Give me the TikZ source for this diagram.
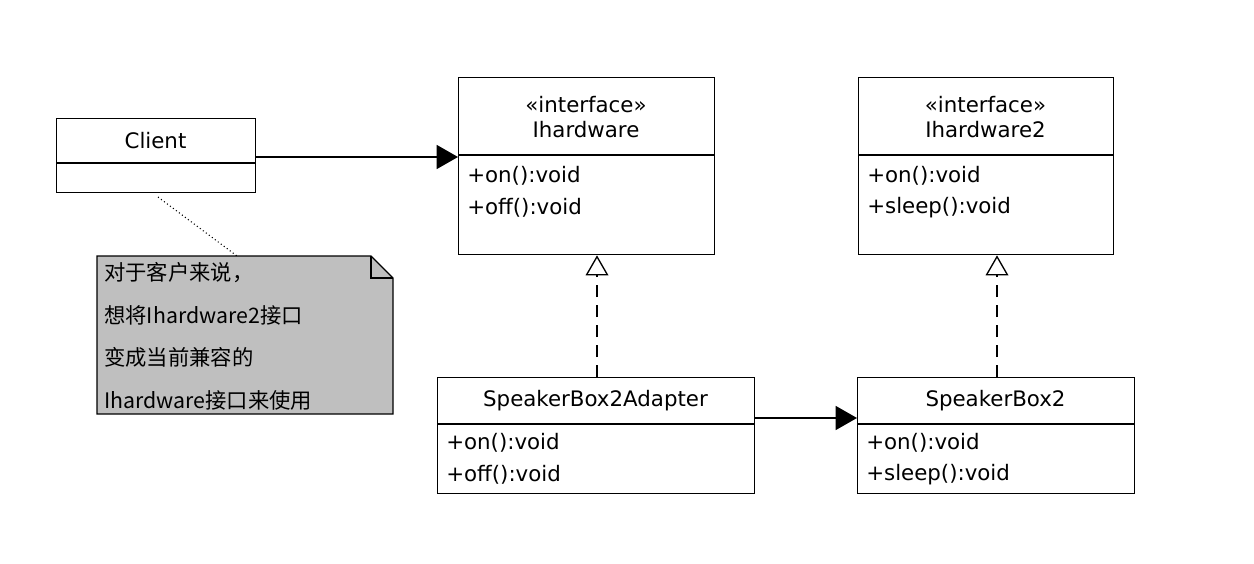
\documentclass[tikz,border=0pt]{standalone}
\usepackage{fontspec}
\setmainfont{DejaVu Sans}
\newfontfamily\cjk{Noto Sans CJK SC}
\usetikzlibrary{arrows.meta}
\begin{document}
\begin{tikzpicture}[x=0.75pt,y=-0.75pt,
  box/.style={draw,line width=1pt,rectangle,inner sep=0pt,anchor=north west},
  txt/.style={font=\fontsize{16}{19}\selectfont,inner sep=0pt},
  mem/.style={txt,anchor=west},
  assoc/.style={line width=1pt,-{Triangle[length=16pt,width=18pt]}},
  real/.style={line width=1pt,dash pattern=on 9pt off 6pt,-{Triangle[open,length=15pt,width=17pt,fill=white]}}]
\useasboundingbox (0,0) rectangle (1254,564);
% Client
\node[box,minimum width=199*0.75pt,minimum height=74*0.75pt] (client) at (56,118) {};
\draw[line width=1pt] (56,163) -- (255,163);
\node[txt] (clientT) at (155.5,141) {Client};
% Ihardware
\node[box,minimum width=256*0.75pt,minimum height=177*0.75pt] (ih) at (458,77) {};
\draw[line width=1pt] (458,155) -- (714,155);
\node[txt,align=center] (ihT) at (586,117) {«interface»\\Ihardware};
\node[mem] (ih1) at (467,176) {+on():void};
\node[mem] (ih2) at (467,208) {+off():void};
% Ihardware2
\node[box,minimum width=255*0.75pt,minimum height=177*0.75pt] (ih2b) at (858,77) {};
\draw[line width=1pt] (858,155) -- (1113,155);
\node[txt,align=center] (ih2T) at (985.5,117) {«interface»\\Ihardware2};
\node[mem] (ih21) at (867,176) {+on():void};
\node[mem] (ih22) at (867,208) {+sleep():void};
% Adapter
\node[box,minimum width=317*0.75pt,minimum height=116*0.75pt] (ad) at (437,377) {};
\draw[line width=1pt] (437,424) -- (754,424);
\node[txt] (adT) at (595.5,401) {SpeakerBox2Adapter};
\node[mem] (ad1) at (446,443) {+on():void};
\node[mem] (ad2) at (446,475) {+off():void};
% SpeakerBox2
\node[box,minimum width=277*0.75pt,minimum height=116*0.75pt] (sb) at (857,377) {};
\draw[line width=1pt] (857,424) -- (1134,424);
\node[txt] (sbT) at (995.5,401) {SpeakerBox2};
\node[mem] (sb1) at (866,443) {+on():void};
\node[mem] (sb2) at (866,475) {+sleep():void};
% Note
\draw[line width=1pt,fill=black!25] (97,256) -- (371,256) -- (393,278) -- (393,414) -- (97,414) -- cycle;
\draw[line width=0.8pt] (371,256) -- (371,278) -- (393,278);
\node[txt,anchor=north west,align=left,font=\fontsize{16}{32}\cjk] (note) at (104,262) {对于客户来说，\\想将Ihardware2接口\\变成当前兼容的\\Ihardware接口来使用};
\coordinate (noteTop) at (237,256);
\coordinate (clientBot) at (158,197);
\draw[line width=0.8pt,dotted] (clientBot) -- (noteTop);
% connectors
\draw[assoc] (client.east |- 0,157) -- (ih.west |- 0,157);
\draw[assoc] (ad.east |- 0,418) -- (sb.west |- 0,418);
\draw[real] (ad.north -| 597,0) -- (ih.south -| 597,0);
\draw[real] (sb.north -| 997,0) -- (ih2b.south -| 997,0);
\end{tikzpicture}
\end{document}
